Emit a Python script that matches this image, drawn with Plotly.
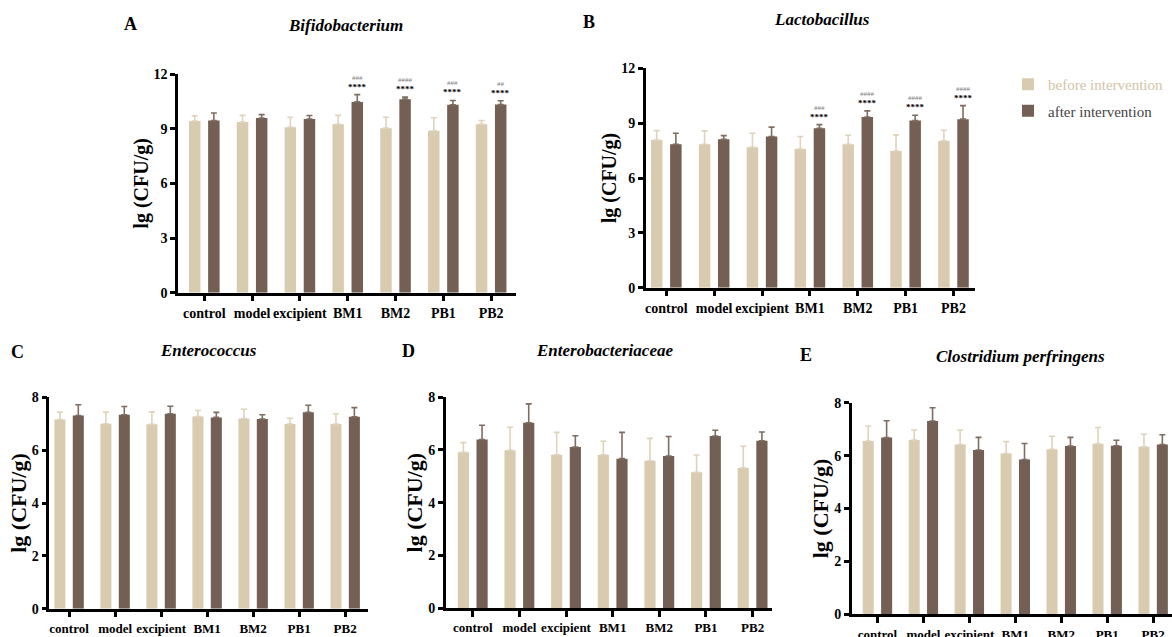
import plotly.graph_objects as go

groups = ["control", "model", "excipient", "BM1", "BM2", "PB1", "PB2"]

# Bifidobacterium (A)
bifido_before = [9.42, 9.36, 9.08, 9.24, 9.03, 8.88, 9.24]
bifido_before_sd = [0.28, 0.37, 0.55, 0.49, 0.60, 0.72, 0.21]
bifido_after = [9.45, 9.58, 9.53, 10.47, 10.62, 10.31, 10.32]
bifido_after_sd = [0.41, 0.19, 0.19, 0.40, 0.11, 0.24, 0.21]
bifido_stars = ["", "", "", "****", "****", "****", "****"]
bifido_hash = ["", "", "", "###", "####", "###", "##"]

# Lactobacillus (B)
lacto_before = [8.08, 7.85, 7.68, 7.59, 7.85, 7.48, 8.03]
lacto_before_sd = [0.51, 0.73, 0.77, 0.68, 0.49, 0.88, 0.58]
lacto_after = [7.85, 8.12, 8.27, 8.72, 9.34, 9.14, 9.22]
lacto_after_sd = [0.60, 0.20, 0.51, 0.20, 0.33, 0.29, 0.74]
lacto_stars = ["", "", "", "****", "****", "****", "****"]
lacto_hash = ["", "", "", "###", "####", "####", "####"]

# Enterococcus (C)
entero_before = [7.16, 7.00, 6.98, 7.27, 7.20, 6.99, 6.99]
entero_before_sd = [0.28, 0.44, 0.47, 0.23, 0.35, 0.22, 0.39]
entero_after = [7.31, 7.34, 7.38, 7.24, 7.18, 7.43, 7.26]
entero_after_sd = [0.41, 0.31, 0.28, 0.19, 0.16, 0.27, 0.35]

# Enterobacteriaceae (D)
ebac_before = [5.91, 5.99, 5.82, 5.82, 5.59, 5.15, 5.32]
ebac_before_sd = [0.37, 0.87, 0.85, 0.51, 0.85, 0.66, 0.82]
ebac_after = [6.40, 7.03, 6.11, 5.67, 5.77, 6.53, 6.35]
ebac_after_sd = [0.54, 0.72, 0.43, 1.00, 0.74, 0.22, 0.33]

# Clostridium perfringens (E)
clos_before = [6.55, 6.59, 6.42, 6.08, 6.24, 6.45, 6.33]
clos_before_sd = [0.57, 0.38, 0.55, 0.45, 0.49, 0.61, 0.48]
clos_after = [6.68, 7.31, 6.21, 5.85, 6.36, 6.37, 6.42]
clos_after_sd = [0.64, 0.50, 0.48, 0.61, 0.33, 0.21, 0.37]

series_names = ["before intervention", "after intervention"]
panel_letters = ["A", "B", "C", "D", "E"]
panel_titles = ["Bifidobacterium", "Lactobacillus", "Enterococcus",
                "Enterobacteriaceae", "Clostridium perfringens"]

C_BEFORE = "#d9cbb0"
C_AFTER = "#735f53"
C_BEFORE_ERR = "#e0d3bb"
C_AFTER_ERR = "#7f6d62"
FONT = "Liberation Serif, Times New Roman, DejaVu Serif, serif"

W, H = 1172, 637
BARGAP, BARGROUPGAP = 0.2, 0.4
AFTER_OFFSET = (1 - BARGAP) / 4

panels = [
    dict(before=bifido_before, bsd=bifido_before_sd, after=bifido_after, asd=bifido_after_sd,
         stars=bifido_stars, hashes=bifido_hash, ymax=12, dtick=3,
         px=(178, 516), py=(74, 292.7), xr=(-0.55, 6.52),
         letter=(130, 24), title=(345, 25), ytitle=20, xfont=14),
    dict(before=lacto_before, bsd=lacto_before_sd, after=lacto_after, asd=lacto_after_sd,
         stars=lacto_stars, hashes=lacto_hash, ymax=12, dtick=3,
         px=(645.7, 975), py=(68.3, 287.7), xr=(-0.43, 6.45),
         letter=(589, 22), title=(822, 20), ytitle=20, xfont=14),
    dict(before=entero_before, bsd=entero_before_sd, after=entero_after, asd=entero_after_sd,
         stars=None, hashes=None, ymax=8, dtick=2,
         px=(49.3, 367.7), py=(397.3, 608.7), xr=(-0.43, 6.49),
         letter=(17, 352), title=(208, 351), ytitle=22, xfont=13),
    dict(before=ebac_before, bsd=ebac_before_sd, after=ebac_after, asd=ebac_after_sd,
         stars=None, hashes=None, ymax=8, dtick=2,
         px=(445.7, 771.7), py=(397.3, 608), xr=(-0.58, 6.41),
         letter=(408, 351), title=(604, 351), ytitle=22, xfont=13),
    dict(before=clos_before, bsd=clos_before_sd, after=clos_after, asd=clos_after_sd,
         stars=None, hashes=None, ymax=8, dtick=2,
         px=(851.7, 1172), py=(402.7, 614.3), xr=(-0.56, 6.41),
         letter=(806, 355), title=(1020, 356), ytitle=22, xfont=13),
]

fig = go.Figure()
annotations = []
layout = {}

for k, p in enumerate(panels):
    n = "" if k == 0 else str(k + 1)
    xa, ya = "x" + n, "y" + n
    fig.add_trace(go.Bar(
        x=groups, y=p["before"], name=f"<span style='color:#d3c4a8'>{series_names[0]}</span>",
        marker=dict(color=C_BEFORE, line=dict(width=0)),
        error_y=dict(type="data", array=p["bsd"], arrayminus=[0] * len(groups), symmetric=False,
                     color=C_BEFORE_ERR, thickness=1.6, width=3),
        xaxis=xa, yaxis=ya, showlegend=(k == 0), legendgroup="b"))
    fig.add_trace(go.Bar(
        x=groups, y=p["after"], name=f"<span style='color:#444444'>{series_names[1]}</span>",
        marker=dict(color=C_AFTER, line=dict(width=0)),
        error_y=dict(type="data", array=p["asd"], arrayminus=[0] * len(groups), symmetric=False,
                     color=C_AFTER_ERR, thickness=1.6, width=3),
        xaxis=xa, yaxis=ya, showlegend=(k == 0), legendgroup="a"))

    x0, x1 = p["px"]
    ytop, ybot = p["py"]
    layout["xaxis" + n] = dict(
        domain=[x0 / W, x1 / W], anchor=ya, type="category", range=list(p["xr"]),
        showline=True, linecolor="black", linewidth=2.5, ticks="outside", ticklen=6,
        tickwidth=2.5, tickcolor="black", showgrid=False, zeroline=False, tickangle=0,
        automargin=False,
        tickfont=dict(family=FONT, size=p["xfont"], color="black", weight="bold"))
    layout["yaxis" + n] = dict(
        domain=[1 - ybot / H, 1 - ytop / H], anchor=xa, range=[0, p["ymax"]], dtick=p["dtick"],
        showline=True, linecolor="black", linewidth=2.5, ticks="outside", ticklen=5,
        tickwidth=2.5, tickcolor="black", showgrid=False, zeroline=False, automargin=False,
        tickfont=dict(family=FONT, size=14, color="black", weight="bold"),
        title=dict(text="lg (CFU/g)", standoff=0,
                   font=dict(family=FONT, size=p["ytitle"], color="black", weight="bold")))

    lx, ly = p["letter"]
    annotations.append(dict(text=f"<b>{panel_letters[k]}</b>", xref="paper", yref="paper",
                            x=lx / W, y=1 - ly / H, showarrow=False, xanchor="center",
                            yanchor="middle", font=dict(family=FONT, size=18, color="black")))
    tx, ty = p["title"]
    annotations.append(dict(text=f"<b><i>{panel_titles[k]}</i></b>", xref="paper", yref="paper",
                            x=tx / W, y=1 - ty / H, showarrow=False, xanchor="center",
                            yanchor="middle", font=dict(family=FONT, size=17, color="black")))

    if p["stars"]:
        for i, g in enumerate(groups):
            top = p["after"][i] + p["asd"][i]
            if p["stars"][i]:
                annotations.append(dict(text=p["stars"][i], xref=xa, yref=ya,
                                        x=i + AFTER_OFFSET, y=top, yshift=1, showarrow=False,
                                        xanchor="center", yanchor="bottom",
                                        font=dict(family=FONT, size=9, color="black", weight="bold")))
            if p["hashes"][i]:
                annotations.append(dict(text=p["hashes"][i], xref=xa, yref=ya,
                                        x=i + AFTER_OFFSET, y=top, yshift=11, showarrow=False,
                                        xanchor="center", yanchor="bottom",
                                        font=dict(family=FONT, size=7, color="#7a7a7a")))

fig.update_layout(
    width=W, height=H, margin=dict(l=0, r=0, t=0, b=0, autoexpand=False),
    paper_bgcolor="white", plot_bgcolor="white",
    barmode="group", bargap=BARGAP, bargroupgap=BARGROUPGAP,
    annotations=annotations,
    font=dict(family=FONT),
    legend=dict(x=1008 / W, y=1 - 68 / H, xanchor="left", yanchor="top",
                font=dict(family=FONT, size=15), bgcolor="rgba(0,0,0,0)",
                traceorder="grouped", tracegroupgap=4),
    **layout,
)

fig.write_html("out.html", config={"displayModeBar": False},
               post_script="document.body.style.margin='0';document.body.style.overflow='hidden';")
